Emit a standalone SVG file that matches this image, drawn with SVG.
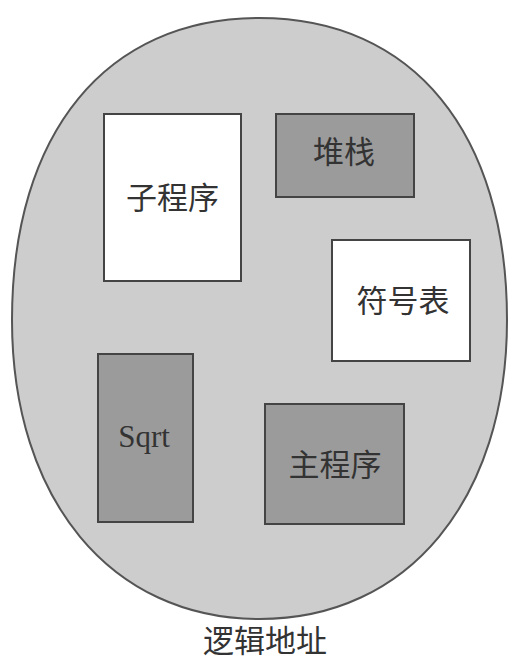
<svg xmlns="http://www.w3.org/2000/svg" width="520" height="665" viewBox="0 0 520 665">
  <style>
    .box { stroke: #444; stroke-width: 2; }
    .light { fill: #ffffff; }
    .dark { fill: #9b9b9b; }
    .cjk { font-family: "Noto Sans CJK SC", "Noto Sans", sans-serif; font-size: 31px; fill: #333; text-anchor: middle; }
    .latin { font-family: "Liberation Serif", serif; font-size: 31px; fill: #333; text-anchor: middle; }
  </style>
  <rect x="0" y="0" width="520" height="665" fill="#ffffff"/>
  <g id="logical-address-space">
    <path d="M259.5,18 C413,18 507,132.8 507,320 C507,499.4 408,619 259.5,619 C111,619 12,499.4 12,320 C12,132.8 106,18 259.5,18 Z" fill="#cdcdcd" stroke="#555" stroke-width="2"/>
  </g>
  <g id="subroutine">
    <rect class="box light" x="104" y="114" width="137" height="167"/>
    <text class="cjk" x="172.5" y="209">子程序</text>
  </g>
  <g id="stack">
    <rect class="box dark" x="276" y="114" width="138" height="83"/>
    <text class="cjk" x="344" y="163">堆栈</text>
  </g>
  <g id="symbol-table">
    <rect class="box light" x="332" y="240" width="138" height="121"/>
    <text class="cjk" x="403" y="312">符号表</text>
  </g>
  <g id="sqrt">
    <rect class="box dark" x="98" y="354" width="95" height="168"/>
    <text class="latin" x="144" y="447">Sqrt</text>
  </g>
  <g id="main-program">
    <rect class="box dark" x="265" y="404" width="139" height="120"/>
    <text class="cjk" x="335" y="476">主程序</text>
  </g>
  <g id="connectors"/>
  <g id="caption">
    <text class="cjk" x="265" y="652">逻辑地址</text>
  </g>
</svg>
